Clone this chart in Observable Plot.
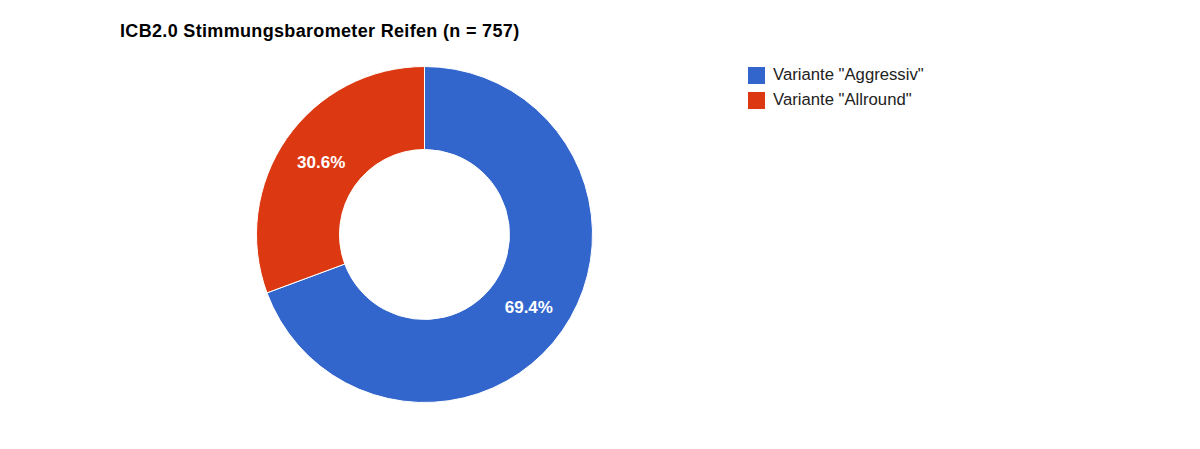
<!DOCTYPE html>
<html>
<head>
<meta charset="utf-8">
<script src="https://cdn.jsdelivr.net/npm/d3@7"></script>
<script src="https://cdn.jsdelivr.net/npm/@observablehq/plot@0.6"></script>
<style>
  html, body { margin: 0; padding: 0; background: #fff; }
  #wrap { position: relative; width: 1200px; height: 449px; font-family: "Liberation Sans", Arial, sans-serif; }
  #title { position: absolute; left: 120px; top: 20.5px; font-size: 18px; letter-spacing: 0.33px; font-weight: bold; color: #000; white-space: nowrap; }
  #legend { position: absolute; left: 748px; top: 66.5px; font-size: 16.7px; color: #222; }
  .row { display: flex; align-items: center; height: 17px; margin-bottom: 8px; white-space: nowrap; }
  .sw { width: 17px; height: 17px; margin-right: 8px; }
  #chart { position: absolute; left: 0; top: 0; }
</style>
</head>
<body>
<div id="wrap">
  <div id="chart"></div>
  <div id="title"></div>
  <div id="legend"></div>
</div>
<script>
const title = "ICB2.0 Stimmungsbarometer Reifen (n = 757)";
const categories = ["Variante \"Aggressiv\"", "Variante \"Allround\""];
const counts = [525, 232];
const colors = ["#3366cc", "#dc3912"];
const labels = ["69.4%", "30.6%"];
const innerRatio = 85 / 168;

const pie = d3.pie().sort(null).value(d => d.count);
const data = categories.map((c, i) => ({category: c, count: counts[i], label: labels[i], color: colors[i]}));
const arcs = pie(data);
const mid = (innerRatio + 1) / 2;
const labelData = arcs.map(a => {
  const m = (a.startAngle + a.endAngle) / 2;
  return {x: Math.sin(m) * mid, y: Math.cos(m) * mid, label: a.data.label};
});

function donut(index, scales) {
  const cx = scales.x(0), cy = scales.y(0), R = scales.x(1) - scales.x(0);
  const arc = d3.arc().innerRadius(R * innerRatio).outerRadius(R);
  const g = d3.create("svg:g").attr("transform", `translate(${cx},${cy})`);
  g.selectAll("path").data(arcs).join("path")
    .attr("d", arc)
    .attr("fill", d => d.data.color)
    .attr("stroke", "#fff")
    .attr("stroke-width", 1);
  return g.node();
}

const plot = Plot.plot({
  width: 1200,
  height: 449,
  margin: 0,
  x: {domain: [-1, 1], range: [256.5, 592.5], axis: null},
  y: {domain: [-1, 1], range: [402.5, 66.5], axis: null},
  style: {fontFamily: "'Liberation Sans', Arial, sans-serif", background: "white"},
  marks: [
    donut,
    Plot.text(labelData, {x: "x", y: "y", text: "label", fill: "white", fontSize: 17, fontWeight: "bold"})
  ]
});
document.getElementById("chart").appendChild(plot);
document.getElementById("title").textContent = title;
const leg = document.getElementById("legend");
categories.forEach((c, i) => {
  const row = document.createElement("div");
  row.className = "row";
  const sw = document.createElement("div");
  sw.className = "sw";
  sw.style.background = colors[i];
  const t = document.createElement("span");
  t.textContent = c;
  row.appendChild(sw); row.appendChild(t);
  leg.appendChild(row);
});
</script>
</body>
</html>
